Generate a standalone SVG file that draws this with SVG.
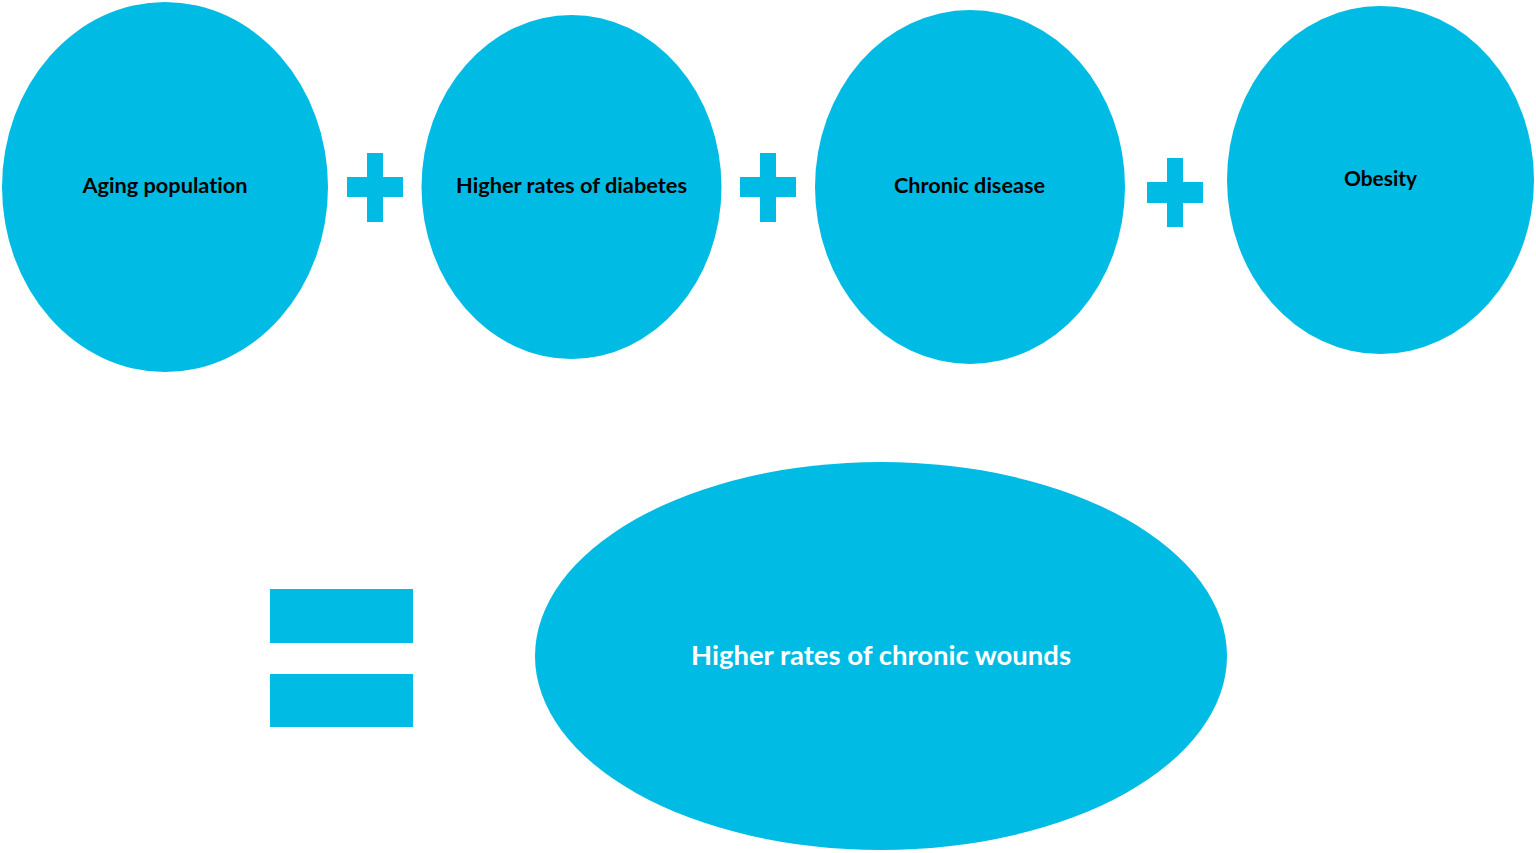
<svg xmlns="http://www.w3.org/2000/svg" width="1536" height="853" viewBox="0 0 1536 853">
<style>
.n{fill:#00BBE3}
.t{font-family:Lato,"Open Sans",sans-serif;font-weight:bold;font-size:20px;fill:#000;text-anchor:middle;font-variant-ligatures:none;font-feature-settings:"liga" 0}
.w{font-family:Lato,"Open Sans",sans-serif;font-weight:bold;font-size:27px;fill:#fff;text-anchor:middle;font-variant-ligatures:none;font-feature-settings:"liga" 0}
</style>
<rect width="1536" height="853" fill="#fff"/>
<g id="aging"><ellipse class="n" cx="165" cy="187" rx="163" ry="185"/><text class="t" x="165" y="193" textLength="165" lengthAdjust="spacingAndGlyphs">Aging population</text></g>
<g id="diabetes"><ellipse class="n" cx="571.5" cy="187" rx="150" ry="172"/><text class="t" x="571.5" y="193" textLength="231" lengthAdjust="spacingAndGlyphs">Higher rates of diabetes</text></g>
<g id="chronic"><ellipse class="n" cx="970" cy="187" rx="155" ry="177"/><text class="t" x="969.5" y="193" textLength="151" lengthAdjust="spacingAndGlyphs">Chronic disease</text></g>
<g id="obesity"><ellipse class="n" cx="1380.5" cy="180" rx="153.5" ry="174"/><text class="t" x="1380.5" y="186" textLength="73" lengthAdjust="spacingAndGlyphs">Obesity</text></g>
<g id="wounds"><ellipse class="n" cx="881" cy="656" rx="346" ry="194"/><text class="w" x="881" y="665" textLength="380" lengthAdjust="spacingAndGlyphs">Higher rates of chronic wounds</text></g>
<g id="operators">
<g id="plus1"><rect class="n" x="347" y="177" width="56" height="20"/><rect class="n" x="367" y="153" width="16" height="69"/></g>
<g id="plus2"><rect class="n" x="740" y="177" width="56" height="20"/><rect class="n" x="760" y="153" width="16" height="69"/></g>
<g id="plus3"><rect class="n" x="1147" y="182" width="56" height="21"/><rect class="n" x="1167" y="158" width="16" height="69"/></g>
<g id="equals"><rect class="n" x="270" y="589" width="143" height="54"/><rect class="n" x="270" y="674" width="143" height="53"/></g>
</g>
</svg>
